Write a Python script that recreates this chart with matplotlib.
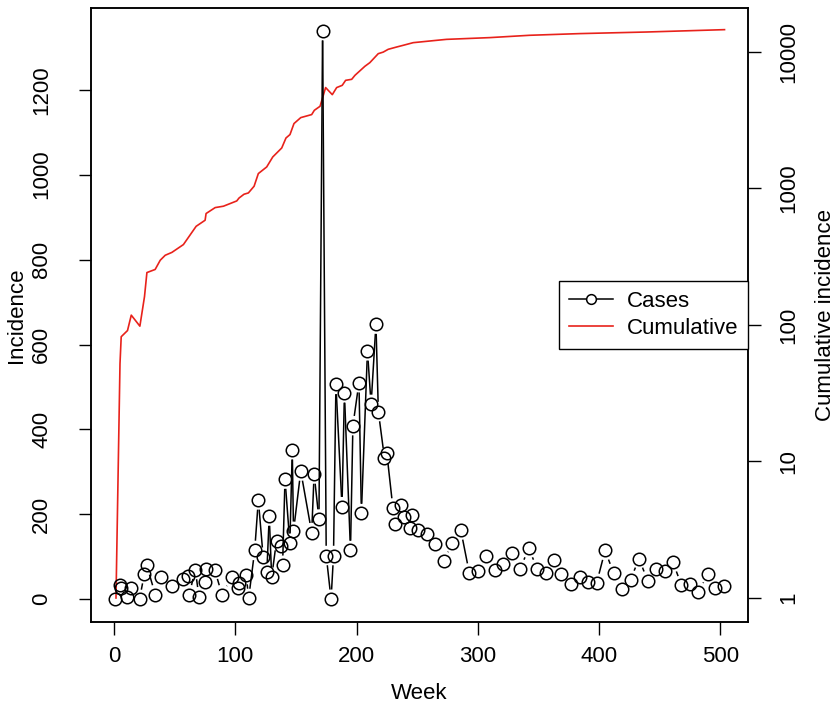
import matplotlib
matplotlib.use("Agg")
import numpy as np
import matplotlib.pyplot as plt
from matplotlib.lines import Line2D

plt.rcParams['font.family'] = ['Liberation Sans', 'DejaVu Sans']

# weekly incidence
week = [1, 5, 6, 11, 14, 21, 25, 27, 34, 39, 48, 57, 61, 62, 67, 70, 75, 76, 83, 89,
        97, 102, 103, 109, 111, 116, 119, 123, 126, 128, 130, 134, 138, 139, 141, 145,
        147, 148, 154, 163, 165, 169, 172, 175, 179, 181, 183, 188, 190, 195, 197, 202,
        204, 209, 212, 216, 218, 223, 225, 230, 232, 237, 239, 244, 246, 251, 258, 265,
        272, 279, 286, 293, 300, 307, 314, 321, 328, 335, 342, 349, 356, 363, 369, 377,
        384, 391, 398, 405, 412, 419, 426, 433, 440, 447, 454, 461, 468, 475, 482, 490,
        496, 503]
cases = [1, 33, 27, 5, 27, 0, 60, 80, 11, 52, 31, 48, 55, 11, 70, 6, 40, 71, 70, 11,
         52, 27, 38, 58, 2, 115, 234, 99, 64, 196, 52, 138, 126, 80, 283, 132,
         352, 160, 302, 157, 295, 189, 1339, 103, 0, 103, 506, 218, 486, 115, 409, 510,
         202, 585, 459, 648, 442, 333, 344, 215, 178, 222, 193, 168, 198, 163, 153, 131,
         90, 133, 163, 62, 66, 103, 68, 82, 108, 72, 120, 72, 63, 93, 59, 36,
         53, 40, 38, 115, 62, 23, 46, 96, 44, 72, 66, 87, 33, 36, 18, 60,
         27, 32]

# cumulative incidence curve (log axis)
cum_week = [1.6, 4.9, 5.9, 11.1, 14.2, 21.3, 25.1, 27.1, 33.9, 38.1, 42.2, 47.7, 57.2,
            67.7, 75.1, 75.9, 83.4, 90.2, 101.2, 103.1, 107.2, 110.8, 115.5, 119.0,
            125.9, 130.9, 138.3, 141.8, 145.1, 148.4, 154.0, 163.0, 165.2, 169.9,
            174.5, 180.0, 183.6, 188.2, 191.0, 196.0, 198.7, 206.9, 211.0, 217.9,
            222.0, 226.1, 233.0, 238.5, 246.7, 266.0, 274.2, 309.9, 342.8, 384.0,
            438.9, 503.5]
cum_cases = [1, 52, 82, 91, 118, 98, 161, 242, 255, 298, 324, 340, 388,
             528, 585, 655, 724, 741, 810, 851, 907, 927, 1038, 1285,
             1437, 1701, 1979, 2342, 2481, 2987, 3303, 3476, 3736, 3998,
             5481, 4864, 5481, 5693, 6194, 6300, 6740, 7850, 8350, 9710,
             9970, 10450, 10860, 11180, 11690, 12160, 12360, 12730, 13240, 13620,
             13990, 14560]

fs = 16
ms = 9
fig = plt.figure(figsize=(8.35, 7.05), dpi=100)
ax = fig.add_axes([0.109, 0.1177, 0.787, 0.871])
ax.set_xlim(-19, 523)
ax.set_ylim(-53.6, 1392.6)

# R style type="b": line pieces that stop short of each circle
pix = ax.transData.transform(np.column_stack([week, cases]))
inv = ax.transData.inverted()
gap = ms * fig.dpi / 72 / 2 + 3.5
for p, q in zip(pix[:-1], pix[1:]):
    d = q - p
    L = np.hypot(*d)
    if L <= 2 * gap:
        continue
    u = d / L
    seg = inv.transform(np.array([p + u * gap, q - u * gap]))
    ax.plot(seg[:, 0], seg[:, 1], color='black', lw=1.1, solid_capstyle='butt')
ax.plot(week, cases, ls='none', marker='o', ms=ms, mfc='none',
        mec='black', mew=1.1, zorder=3)

ax.set_xticks(range(0, 501, 100))
ax.set_yticks(range(0, 1201, 200))
ax.set_xlabel('Week', fontsize=fs, labelpad=12)
ax.set_ylabel('Incidence', fontsize=fs, labelpad=3)
ax.tick_params(axis='x', labelsize=fs, length=9, width=1, pad=8)
ax.tick_params(axis='y', labelsize=fs, length=9, width=1, pad=19)
for lab in ax.get_yticklabels():
    lab.set_rotation(90)
    lab.set_va('center')

ax2 = ax.twinx()
ax2.plot(cum_week, cum_cases, color='#e8221b', lw=1.2, zorder=2)
ax2.set_yscale('log')
ax2.set_ylim(10 ** -0.176, 10 ** 4.322)
ax2.set_yticks([1, 10, 100, 1000, 10000])
ax2.set_yticklabels(['1', '10', '100', '1000', '10000'])
ax2.minorticks_off()
ax2.set_ylabel('Cumulative incidence', fontsize=fs, labelpad=11)
ax2.tick_params(axis='y', labelsize=fs, length=9, width=1, pad=13)
for lab in ax2.get_yticklabels():
    lab.set_rotation(90)
    lab.set_va('center')

for a in (ax, ax2):
    for s in a.spines.values():
        s.set_linewidth(1.1)
        s.set_color('black')

ax.set_zorder(ax2.get_zorder() + 1)
ax.patch.set_visible(False)

handles = [Line2D([], [], color='black', lw=1.1, marker='o', ms=7,
                  mfc='white', mec='black', mew=1.1),
           Line2D([], [], color='#e8221b', lw=1.2)]
leg = ax.legend(handles, ['Cases', 'Cumulative'], loc='center right',
                bbox_to_anchor=(1.0, 0.50), borderaxespad=0, fontsize=fs,
                fancybox=False, edgecolor='black', framealpha=1,
                handlelength=2.0, handletextpad=0.6, borderpad=0.45,
                labelspacing=0.25)
leg.get_frame().set_linewidth(1.0)

fig.savefig('out.png', dpi=100)
